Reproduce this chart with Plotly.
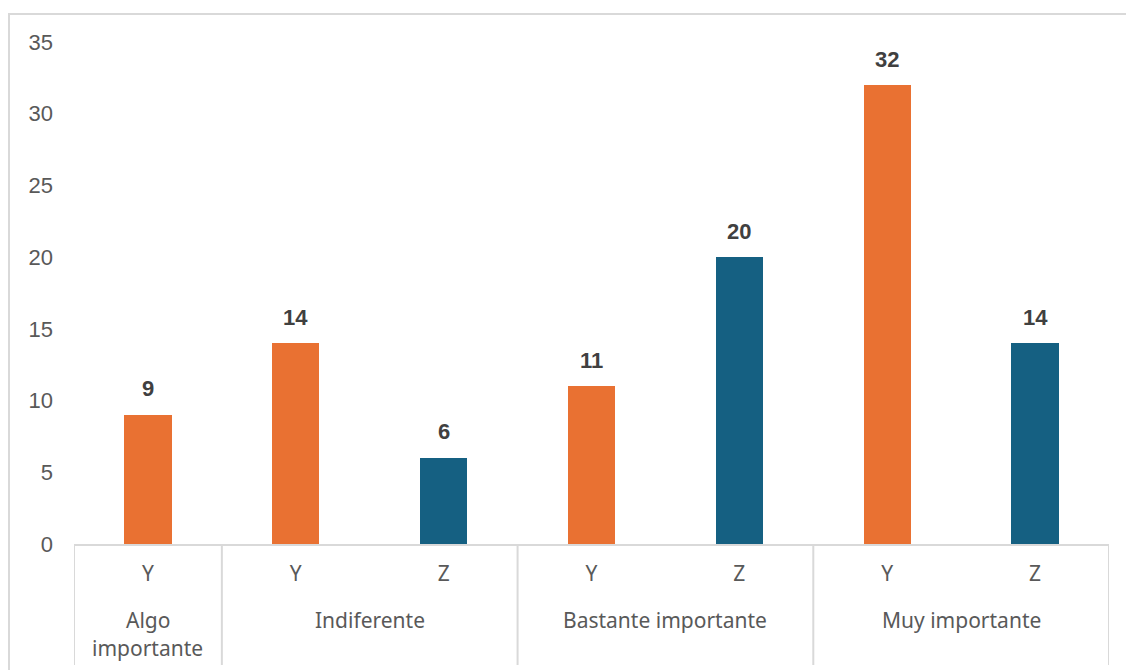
import plotly.graph_objects as go

# Survey answers, grouped by importance level; Z has no answer for the first group
groups = ["Algo<br>importante", "Indiferente", "Bastante importante", "Muy importante"]
series_names = ["Y", "Z"]
values_y = [9, 14, 11, 32]
values_z = [None, 6, 20, 14]

colors = {"Y": "#E97132", "Z": "#156082"}
axis_gray = "#D9D9D9"
label_gray = "#595959"
value_gray = "#404040"
cat_font = dict(family="Noto Sans", size=21, color=label_gray)

# Lay out one slot per (group, series) pair that has a value
slot_x, slot_text = [], []
bars = {"Y": ([], []), "Z": ([], [])}
group_spans = []
pos = 0
for g, (vy, vz) in enumerate(zip(values_y, values_z)):
    start = pos
    for name, v in zip(series_names, (vy, vz)):
        if v is None:
            continue
        bars[name][0].append(pos)
        bars[name][1].append(v)
        slot_x.append(pos)
        slot_text.append(name)
        pos += 1
    group_spans.append((start - 0.5, pos - 0.5))

fig = go.Figure()
for name in series_names:
    xs, ys = bars[name]
    fig.add_trace(go.Bar(
        x=xs, y=ys, name=name, width=0.32,
        marker=dict(color=colors[name], line=dict(width=0)),
        showlegend=False, hoverinfo="skip",
    ))

# Value labels above each bar
for name in series_names:
    xs, ys = bars[name]
    for x, v in zip(xs, ys):
        fig.add_annotation(
            x=x, y=v, xref="x", yref="y", text=f"<b>{v}</b>",
            showarrow=False, yanchor="middle", yshift=26,
            font=dict(family="Liberation Sans", size=22, color=value_gray),
        )

# Group names under the series labels (wrapped names get a 28 px line pitch)
for (x0, x1), label in zip(group_spans, groups):
    for i, line in enumerate(label.split("<br>")):
        fig.add_annotation(
            x=(x0 + x1) / 2, y=0, xref="x", yref="y", text=line,
            showarrow=False, yanchor="middle", yshift=-76 - 28 * i,
            font=cat_font,
        )

# Group dividers below the category axis
edges = sorted({e for span in group_spans for e in span})
for e in edges:
    fig.add_shape(
        type="line", xref="x", yref="paper", x0=e, x1=e, y0=0, y1=-0.241,
        line=dict(color=axis_gray, width=2),
    )

# Chart frame
fig.add_shape(
    type="rect", xref="paper", yref="paper",
    x0=-0.0628, x1=1.03, y0=-0.3, y1=1.056,
    line=dict(color=axis_gray, width=2), fillcolor="rgba(0,0,0,0)", layer="below",
)

fig.update_layout(
    width=1126, height=670,
    margin=dict(l=74, r=17, t=42, b=126),
    plot_bgcolor="white", paper_bgcolor="white",
    bargap=0,
    xaxis=dict(
        range=[-0.5, pos - 0.5],
        tickmode="array", tickvals=slot_x, ticktext=slot_text,
        showgrid=False, zeroline=False,
        showline=True, linecolor=axis_gray, linewidth=2,
        ticks="", ticklabelstandoff=10,
        tickfont=cat_font,
    ),
    yaxis=dict(
        range=[0, 35], dtick=5, tick0=0,
        showgrid=False, zeroline=False, showline=False,
        ticks="", ticklabelstandoff=20,
        tickfont=dict(family="Liberation Sans", size=22, color=label_gray),
    ),
)

fig.write_html("out.html")
